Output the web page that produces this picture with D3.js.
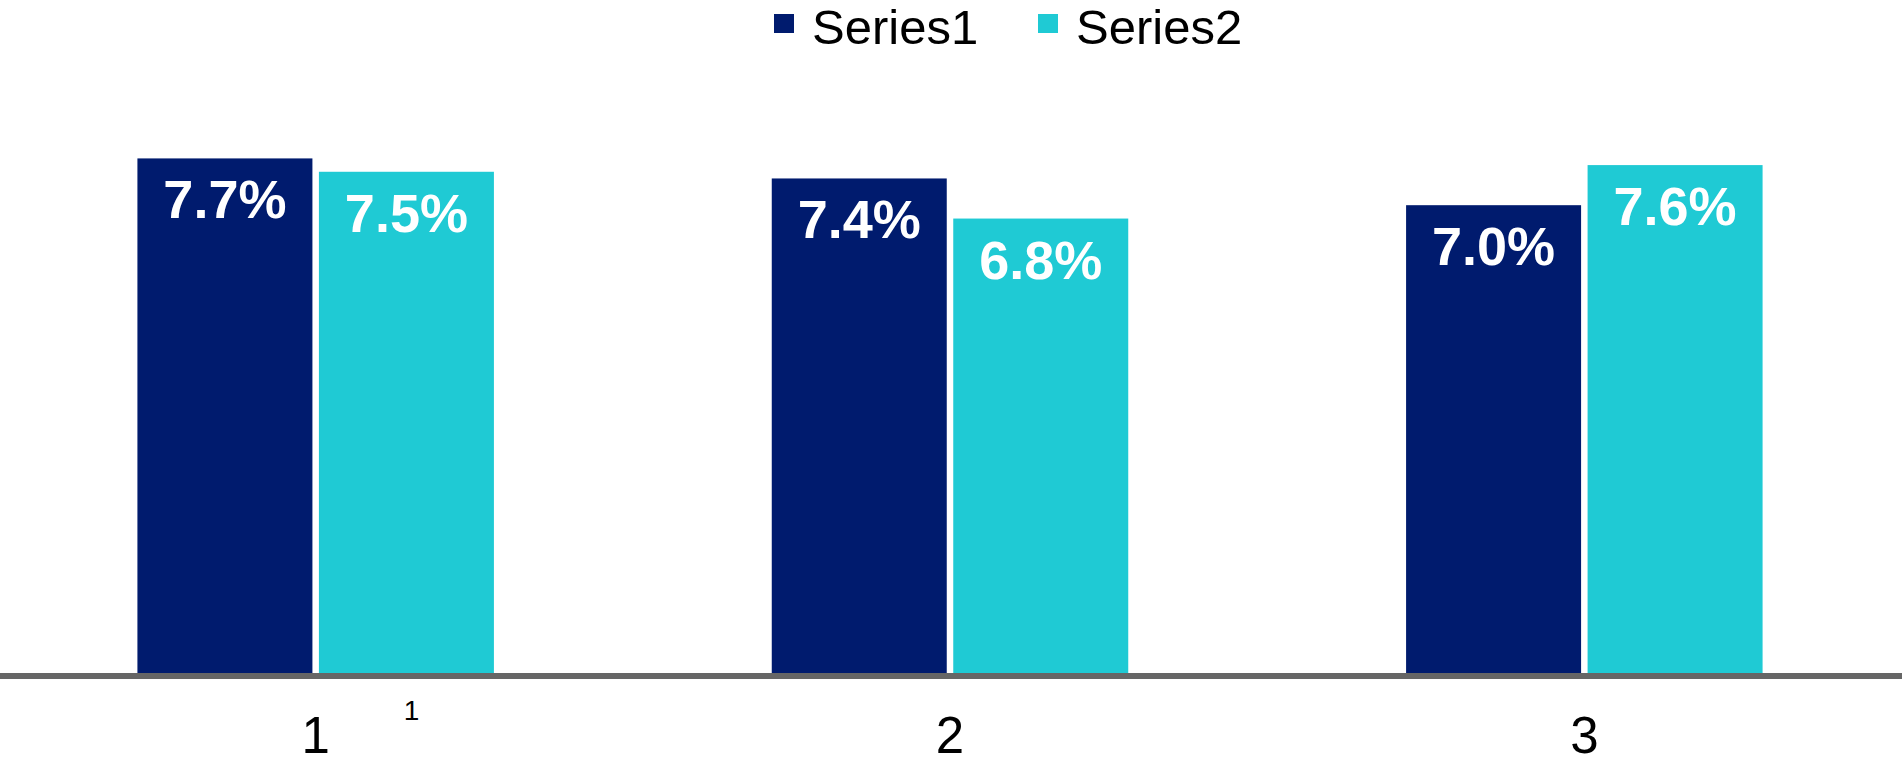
<!DOCTYPE html>
<html>
<head>
<meta charset="utf-8">
<script src="https://cdn.jsdelivr.net/npm/d3@7"></script>
<style>
  html, body { margin: 0; padding: 0; background: #ffffff; }
  svg { display: block; font-family: Arial, "Liberation Sans", sans-serif; }
</style>
</head>
<body>
<svg id="chart" width="1903" height="764"></svg>
<script>
const categories = ["1", "2", "3"];
const footnotes = ["1", "", ""];
const seriesNames = ["Series1", "Series2"];
const series1 = [7.7, 7.4, 7.0];
const series2 = [7.5, 6.8, 7.6];
const colors = ["#001B6E", "#1FCAD4"];

const W = 1903, H = 764;
const baseY = 673;
const svg = d3.select("#chart");

const x0 = d3.scaleBand().domain(categories).range([-1.5, 1901.5])
  .paddingInner(0.438).paddingOuter(0.219);
const x1 = d3.scaleBand().domain(seriesNames).range([0, x0.bandwidth()])
  .paddingInner(0.0358).paddingOuter(0);
const y = d3.scaleLinear().domain([0, 8]).range([baseY, baseY - 8 * 66.83]);

const rows = categories.map((c, i) => ({
  cat: c,
  vals: [
    { s: seriesNames[0], v: series1[i], color: colors[0] },
    { s: seriesNames[1], v: series2[i], color: colors[1] }
  ]
}));

const groups = svg.append("g").selectAll("g").data(rows).join("g")
  .attr("transform", d => `translate(${x0(d.cat)},0)`);

groups.selectAll("rect").data(d => d.vals).join("rect")
  .attr("x", d => x1(d.s))
  .attr("y", d => y(d.v))
  .attr("width", x1.bandwidth())
  .attr("height", d => y(0) - y(d.v))
  .attr("fill", d => d.color);

groups.selectAll("text.val").data(d => d.vals).join("text")
  .attr("class", "val")
  .attr("x", d => x1(d.s) + x1.bandwidth() / 2)
  .attr("y", d => y(d.v) + 60)
  .attr("text-anchor", "middle")
  .attr("fill", "#ffffff")
  .attr("font-weight", "bold")
  .attr("font-size", 54)
  .text(d => d.v.toFixed(1) + "%");

// axis line
const xAxis = d3.axisBottom(x0).tickSize(0).tickFormat("");
const axG = svg.append("g").attr("transform", `translate(0,${baseY + 3})`).call(xAxis);
axG.select(".domain").remove();
axG.append("line").attr("x1", 0).attr("x2", 1902).attr("y1", 0).attr("y2", 0)
  .attr("stroke", "#666666").attr("stroke-width", 6);

// category labels
const mid = d => x0(d) + x0.bandwidth() / 2;
svg.append("g").selectAll("text").data(categories).join("text")
  .attr("x", d => mid(d))
  .attr("y", 753)
  .attr("text-anchor", "middle")
  .attr("font-size", 51)
  .attr("fill", "#000000")
  .text(d => d);
svg.append("g").selectAll("text").data(categories.filter((d, i) => footnotes[i])).join("text")
  .attr("x", d => mid(d) + 88)
  .attr("y", 720)
  .attr("text-anchor", "start")
  .attr("font-size", 28)
  .attr("fill", "#000000")
  .text(d => footnotes[categories.indexOf(d)]);

// legend
const legX = [774, 1038];
const leg = svg.append("g").selectAll("g").data(seriesNames).join("g")
  .attr("transform", (d, i) => `translate(${legX[i]},0)`);
leg.append("rect").attr("x", 0).attr("y", 14).attr("width", 20).attr("height", 19)
  .attr("fill", (d, i) => colors[i]);
leg.append("text").attr("x", 38).attr("y", 44)
  .attr("font-size", 49).attr("fill", "#000000").text(d => d);
</script>
</body>
</html>
